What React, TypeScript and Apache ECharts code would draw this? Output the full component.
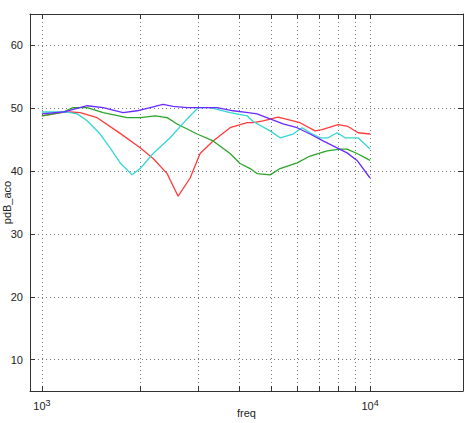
import React, { useEffect, useRef } from "react";
import * as echarts from "echarts";

const redFreq = [1000, 1060, 1137, 1220, 1308, 1474, 1732, 1993, 2183, 2408, 2601, 2830, 3035, 3325, 3746, 4221, 4402, 4721, 5245, 6120, 6800, 7143, 7992, 8570, 9193, 10000];
const redVal = [48.8, 49.0, 49.3, 49.4, 49.3, 48.5, 46.0, 43.7, 42.0, 39.6, 36.0, 38.9, 42.8, 44.8, 46.9, 47.7, 47.7, 48.0, 48.6, 47.7, 46.4, 46.6, 47.4, 47.1, 46.1, 45.9];

const greenFreq = [1000, 1161, 1245, 1374, 1537, 1819, 1993, 2214, 2408, 2583, 2972, 3325, 3746, 4018, 4311, 4527, 4959, 5319, 5994, 6566, 7397, 8105, 8511, 9129, 10000];
const greenVal = [48.8, 49.4, 50.1, 50.1, 49.3, 48.5, 48.5, 48.8, 48.5, 47.5, 45.9, 44.8, 42.8, 41.2, 40.4, 39.6, 39.4, 40.4, 41.3, 42.4, 43.2, 43.5, 43.5, 42.8, 41.7];

const cyanFreq = [1000, 1194, 1281, 1374, 1505, 1614, 1732, 1884, 1993, 2183, 2459, 2771, 2993, 3256, 3746, 4221, 4402, 4959, 5319, 5828, 6207, 6566, 7043, 7449, 7937, 8395, 9193, 10000];
const cyanVal = [49.4, 49.4, 49.1, 48.0, 45.9, 43.7, 41.3, 39.4, 40.4, 42.8, 45.3, 48.3, 50.1, 50.1, 49.3, 48.8, 47.9, 46.4, 45.3, 45.9, 46.9, 46.1, 45.3, 45.3, 46.1, 45.3, 45.3, 43.5];

const blueFreq = [1000, 1161, 1374, 1537, 1768, 1951, 2137, 2341, 2511, 2771, 3035, 3420, 3826, 4251, 4527, 4959, 5432, 5994, 6566, 7193, 7937, 8511, 9129, 10000];
const blueVal = [49.1, 49.4, 50.4, 50.1, 49.3, 49.6, 50.1, 50.6, 50.3, 50.1, 50.1, 50.1, 49.6, 49.3, 49.1, 48.3, 47.5, 46.9, 45.9, 44.8, 43.7, 42.9, 41.7, 38.9];

const xMin = 920;
const xMax = 19200;
const xTicks = [1000, 2000, 3000, 4000, 5000, 6000, 7000, 8000, 9000, 10000];
const xLabels = [1000, 10000];
const yTicks = [10, 20, 30, 40, 50, 60];

const pairs = (f: number[], v: number[]) => f.map((x, i) => [x, v[i]]);

export default function App() {
  const ref = useRef<HTMLDivElement>(null);
  useEffect(() => {
    if (!ref.current) return;
    const chart = echarts.init(ref.current, null, { renderer: "svg" });
    const font = "Liberation Sans";
    const axisLine = { show: true, lineStyle: { color: "#333", width: 1 } };
    const tick = { show: true, inside: true, length: 5, lineStyle: { color: "#333" } };
    const split = { show: true, lineStyle: { color: "#777", type: [1, 3] as any, width: 1 } };
    const line = (name: string, data: number[][], color: string) => ({
      name,
      type: "line",
      data,
      symbol: "none",
      smooth: false,
      lineStyle: { color, width: 1.3 },
      xAxisIndex: 0,
      yAxisIndex: 0,
    });
    chart.setOption({
      animation: false,
      backgroundColor: "#fff",
      textStyle: { fontFamily: font },
      grid: { left: 30, right: 12, top: 14, bottom: 32, containLabel: false, outerBoundsMode: "none" },
      xAxis: [
        {
          type: "log",
          logBase: 10,
          min: xMin,
          max: xMax,
          position: "bottom",
          axisLine,
          axisTick: { ...tick, customValues: xTicks },
          axisLabel: {
            customValues: xLabels,
            margin: 7,
            formatter: (v: number) => `{b|10}{s|${Math.round(Math.log10(v))}}`,
            rich: {
              b: { fontSize: 11, fontFamily: font, color: "#222" },
              s: { fontSize: 9, fontFamily: font, color: "#222", verticalAlign: "top", padding: [0, 0, 6, 0] },
            },
          },
          splitLine: split,
          name: "freq",
          nameLocation: "middle",
          nameGap: 16,
          nameMoveOverlap: false,
          nameTextStyle: { fontSize: 11, fontFamily: font, color: "#222", verticalAlign: "top", lineHeight: 12 },
        },
        {
          type: "log",
          logBase: 10,
          min: xMin,
          max: xMax,
          position: "top",
          axisLine,
          axisTick: { ...tick, customValues: xTicks },
          axisLabel: { show: false },
          splitLine: { show: false },
        },
      ],
      yAxis: [
        {
          type: "value",
          min: 5,
          max: 65,
          position: "left",
          axisLine,
          axisTick: { ...tick, customValues: yTicks },
          axisLabel: { customValues: yTicks, fontSize: 11, fontFamily: font, color: "#222", margin: 7 },
          splitLine: split,
          name: "pdB_aco",
          nameLocation: "middle",
          nameGap: 17,
          nameMoveOverlap: false,
          nameRotate: 90,
          nameTextStyle: { fontSize: 11, fontFamily: font, color: "#222", lineHeight: 12 },
        },
        {
          type: "value",
          min: 5,
          max: 65,
          position: "right",
          axisLine,
          axisTick: { ...tick, customValues: yTicks },
          axisLabel: { show: false },
          splitLine: { show: false },
        },
      ],
      series: [
        line("red", pairs(redFreq, redVal), "#ff3b3b"),
        line("green", pairs(greenFreq, greenVal), "#2aa52a"),
        line("cyan", pairs(cyanFreq, cyanVal), "#33d6d6"),
        line("blue", pairs(blueFreq, blueVal), "#6a2bff"),
      ],
    });
    return () => chart.dispose();
  }, []);
  return <div ref={ref} style={{ width: 475, height: 423, position: "absolute", left: 0, top: 0 }} />;
}
